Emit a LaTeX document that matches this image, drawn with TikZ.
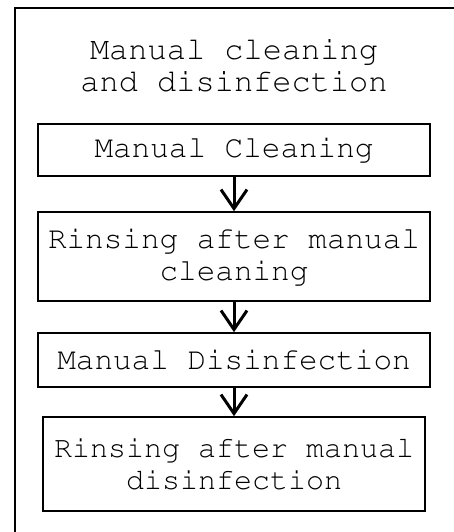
\documentclass[tikz,border=0pt]{standalone}
\usepackage[T1]{fontenc}
\usepackage{courier}
\usetikzlibrary{arrows.meta}
\tikzset{
  stepbox/.style={draw,line width=1.6pt,align=center,inner sep=0pt},
  flow/.style={line width=3pt,-{Straight Barb[length=19pt,width=26pt]}},
}
\begin{document}
\begin{tikzpicture}[x=1pt,y=-1pt,font=\fontsize{31}{32}\ttfamily\selectfont]
    \useasboundingbox (0,0) rectangle (453,532);
    \draw[line width=2.6pt] (15,560) -- (15,8) -- (470,8);
    \node[align=center,font=\fontsize{32}{32}\ttfamily\selectfont] (title) at (234,66) {Manual cleaning\\and disinfection};
    \node[stepbox,minimum width=392pt,minimum height=52pt] (clean) at (234,150) {Manual Cleaning};
    \node[stepbox,minimum width=392pt,minimum height=89pt] (rinse1) at (234,256.5) {Rinsing after manual\\cleaning};
    \node[stepbox,minimum width=392pt,minimum height=54pt] (disinf) at (234,360) {Manual Disinfection};
    \node[stepbox,minimum width=382pt,minimum height=94pt,font=\fontsize{30}{32}\ttfamily\selectfont] (rinse2) at (234,464) {Rinsing after manual\\disinfection};
    \draw[flow] (clean) -- (rinse1);
    \draw[flow] (rinse1) -- (disinf);
    \draw[flow] (disinf) -- (rinse2);
\end{tikzpicture}
\end{document}
